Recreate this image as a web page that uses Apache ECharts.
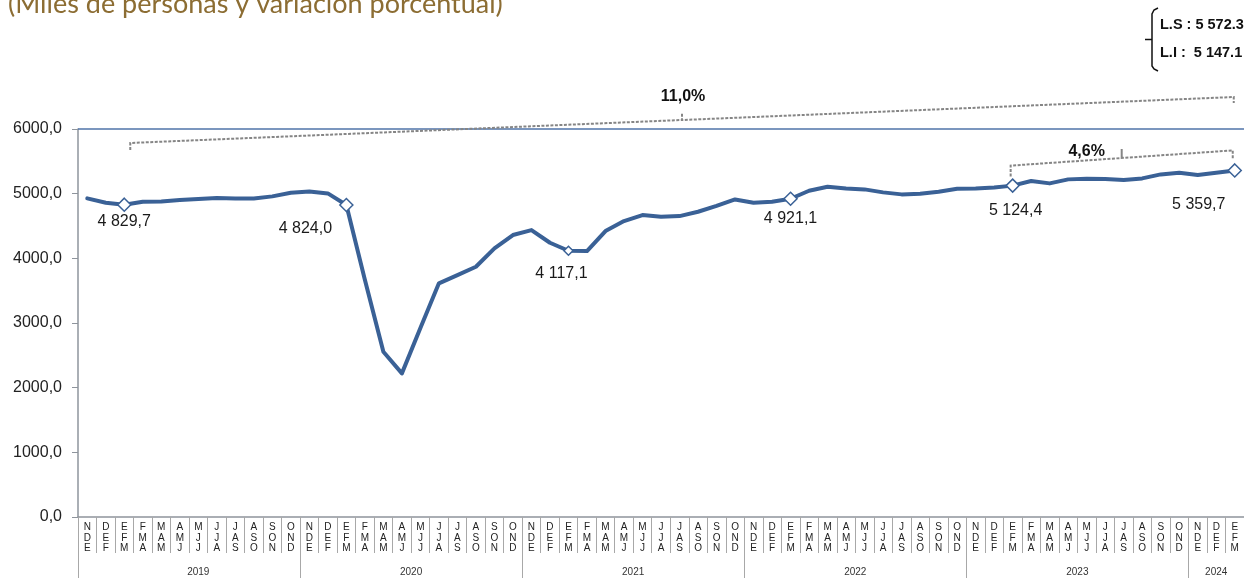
<!DOCTYPE html>
<html>
<head>
<meta charset="utf-8">
<script src="https://cdn.jsdelivr.net/npm/echarts/dist/echarts.min.js"></script>
<style>
html,body{margin:0;padding:0;background:#fff;}
#c{width:1244px;height:578px;}
</style>
</head>
<body>
<div id="c"></div>
<script>
// ---- data ----
const years = ['2019', '2020', '2021', '2022', '2023', '2024'];
const periodsPerYear = [12, 12, 12, 12, 12, 3];
const periodCycle = ['NDE', 'DEF', 'EFM', 'FMA', 'MAM', 'AMJ', 'MJJ', 'JJA', 'JAS', 'ASO', 'SON', 'OND'];
const values = [
  4927, 4859, 4829.7, 4875, 4880, 4901, 4916, 4932, 4927, 4927, 4958, 5014,
  5035, 5004, 4824.0, 3669, 2556, 2221, 2922, 3613, 3741, 3870, 4154, 4360,
  4437, 4241, 4117.1, 4112, 4422, 4576, 4669, 4643, 4653, 4720, 4810, 4911,
  4859, 4875, 4921.1, 5045, 5107, 5081, 5066, 5020, 4989, 4999, 5030, 5076,
  5081, 5095, 5124.4, 5195, 5159, 5221, 5230, 5226, 5210, 5236, 5298, 5323,
  5287, 5323, 5359.7
];
const markedIdx = [2, 14, 26, 38, 50, 62];
const yTicks = [0, 1000, 2000, 3000, 4000, 5000, 6000];
const titleText = '(Miles de personas y variación porcentual)';
const limitTexts = ['L.S : 5 572.3', 'L.I :  5 147.1'];
const growthTexts = ['11,0%', '4,6%'];

// ---- build categories ----
const categories = [];
const catYear = [];
periodsPerYear.forEach((n, y) => {
  for (let k = 0; k < n; k++) { categories.push(periodCycle[k]); catYear.push(years[y]); }
});
const yearLabelIdx = {};
let start = 0;
periodsPerYear.forEach((n, y) => {
  yearLabelIdx[start + Math.floor(n / 2)] = { year: years[y], shift: (n % 2 === 0 && y > 0) };
  start += n;
});

function fmt(v) {
  const s = v.toFixed(1).split('.');
  return s[0].replace(/\B(?=(\d{3})+(?!\d))/g, ' ') + ',' + s[1];
}

const labelOffsets = { 2: [0, 17], 14: [-41, 24], 26: [-7, 23], 38: [0, 20], 50: [3, 25], 62: [-36, 34] };
const BLUE = '#3a6196';

const seriesData = values.map((v, i) => {
  if (markedIdx.indexOf(i) < 0) return v;
  return {
    value: v,
    symbol: 'diamond',
    symbolSize: i === 26 ? 9 : 13,
    label: {
      show: true,
      position: 'inside',
      offset: labelOffsets[i],
      align: 'center',
      verticalAlign: 'middle',
      formatter: () => fmt(v),
      fontFamily: 'Liberation Sans, Arial, sans-serif',
      fontSize: 16,
      color: '#1a1a1a'
    }
  };
});

const chart = echarts.init(document.getElementById('c'), null, { renderer: 'canvas' });
const gridLeft = 78, gridTop = 129, catW = 18.64;

chart.setOption({
  animation: false,
  backgroundColor: '#fff',
  grid: { left: gridLeft, top: gridTop, width: catW * categories.length, height: 388, containLabel: false },
  xAxis: [
    {
      type: 'category',
      data: categories,
      boundaryGap: true,
      position: 'bottom',
      axisLine: { show: true, lineStyle: { color: '#8e949c', width: 1.5 } },
      axisTick: { show: true, interval: 0, length: 36, lineStyle: { color: '#a8a8a8', width: 1 } },
      axisLabel: {
        interval: 0,
        margin: 5,
        formatter: (v) => v.split('').join('\n'),
        fontFamily: 'Liberation Sans, Arial, sans-serif',
        fontSize: 10,
        lineHeight: 10.5,
        color: '#222'
      },
      splitLine: { show: false }
    },
    {
      type: 'category',
      data: categories,
      boundaryGap: true,
      position: 'bottom',
      offset: 36,
      axisLine: { show: false },
      axisTick: { show: true, interval: (i) => i % 12 === 0, length: 26, lineStyle: { color: '#a8a8a8', width: 1 } },
      axisLabel: {
        interval: (i) => yearLabelIdx[i] !== undefined,
        margin: 14,
        formatter: (v, i) => {
          const e = yearLabelIdx[i];
          if (!e) return '';
          return e.shift ? '{s|' + e.year + '}' : '{n|' + e.year + '}';
        },
        rich: {
          s: { padding: [0, catW, 0, 0], fontSize: 10, fontFamily: 'Liberation Sans, Arial, sans-serif', color: '#333' },
          n: { fontSize: 10, fontFamily: 'Liberation Sans, Arial, sans-serif', color: '#333' }
        }
      },
      splitLine: { show: false }
    }
  ],
  yAxis: {
    type: 'value',
    min: yTicks[0],
    max: yTicks[yTicks.length - 1],
    interval: 1000,
    axisLine: { show: true, lineStyle: { color: '#8e949c', width: 1.5 } },
    axisTick: { show: true, length: 6, lineStyle: { color: '#8e949c', width: 1 } },
    axisLabel: {
      margin: 16,
      formatter: (v) => v.toFixed(1).replace('.', ','),
      fontFamily: 'Liberation Sans, Arial, sans-serif',
      fontSize: 16,
      color: '#222'
    },
    splitLine: { show: false }
  },
  series: [{
    type: 'line',
    data: seriesData,
    symbol: 'none',
    showAllSymbol: true,
    smooth: false,
    z: 3,
    lineStyle: { color: BLUE, width: 4, join: 'round', cap: 'round' },
    itemStyle: { color: '#fff', borderColor: BLUE, borderWidth: 1.5 },
    markLine: {
      silent: true,
      symbol: 'none',
      label: { show: false },
      lineStyle: { color: '#4f73a8', width: 1.5, type: 'solid' },
      data: [{ yAxis: yTicks[yTicks.length - 1] }]
    }
  }]
});

// ---- annotations (positioned from axis scales) ----
const px = (i, v) => chart.convertToPixel({ xAxisIndex: 0, yAxisIndex: 0 }, [i, v]);
const topY = px(0, yTicks[yTicks.length - 1])[1];
const a = px(2, values[2]);
const b = px(62, values[62]);
const c = px(50, values[50]);
const dashStyle = { stroke: '#858585', lineWidth: 2, lineDash: [3, 1.5], fill: null };

const xl1 = a[0] + 6, xr1 = b[0] - 1, yl1 = topY + 14, yr1 = topY - 32;
const xm1 = (xl1 + xr1) / 2, ym1 = (yl1 + yr1) / 2;
const xl2 = c[0] - 2, xr2 = b[0] - 2, yl2 = c[1] - 20, yr2 = b[1] - 20;
const xm2 = (xl2 + xr2) / 2, ym2 = (yl2 + yr2) / 2;

const bold = 'bold 16px "Liberation Sans", Arial, sans-serif';
chart.setOption({
  graphic: [
    { type: 'polyline', silent: true, z: 10, shape: { points: [[xl1, yl1 + 7], [xl1, yl1], [xm1, ym1], [xm1, ym1 - 7], [xm1, ym1], [xr1, yr1], [xr1, yr1 + 6]] }, style: dashStyle },
    { type: 'text', silent: true, z: 10, x: xm1 + 1, y: ym1 - 23, style: { text: growthTexts[0], font: bold, fill: '#111', align: 'center', verticalAlign: 'middle' } },
    { type: 'polyline', silent: true, z: 10, shape: { points: [[xl2, c[1] - 9], [xl2, yl2], [xm2, ym2], [xm2, ym2 - 9], [xm2, ym2], [xr2, yr2], [xr2, yr2 + 9]] }, style: dashStyle },
    { type: 'text', silent: true, z: 10, x: xm2 - 35, y: ym2 - 6, style: { text: growthTexts[1], font: bold, fill: '#111', align: 'center', verticalAlign: 'middle' } },
    { type: 'text', silent: true, z: 10, x: 8, y: 4, style: { text: titleText, font: '27px Lato, "Open Sans", sans-serif', fill: '#8c6d33', align: 'left', verticalAlign: 'middle' } },
    { type: 'polyline', silent: true, z: 10, shape: { points: [[1158, 8], [1154, 10], [1152, 14], [1152, 66], [1154, 69], [1158, 71]] }, style: { stroke: '#111', lineWidth: 1.5, fill: null } },
    { type: 'line', silent: true, z: 10, shape: { x1: 1145, y1: 39.5, x2: 1152, y2: 39.5 }, style: { stroke: '#111', lineWidth: 1.5 } },
    { type: 'text', silent: true, z: 10, x: 1160, y: 25, style: { text: limitTexts[0], font: 'bold 14.5px "Liberation Sans", Arial, sans-serif', fill: '#111', align: 'left', verticalAlign: 'middle' } },
    { type: 'text', silent: true, z: 10, x: 1160, y: 53, style: { text: limitTexts[1], font: 'bold 14.5px "Liberation Sans", Arial, sans-serif', fill: '#111', align: 'left', verticalAlign: 'middle' } }
  ]
});
</script>
</body>
</html>
